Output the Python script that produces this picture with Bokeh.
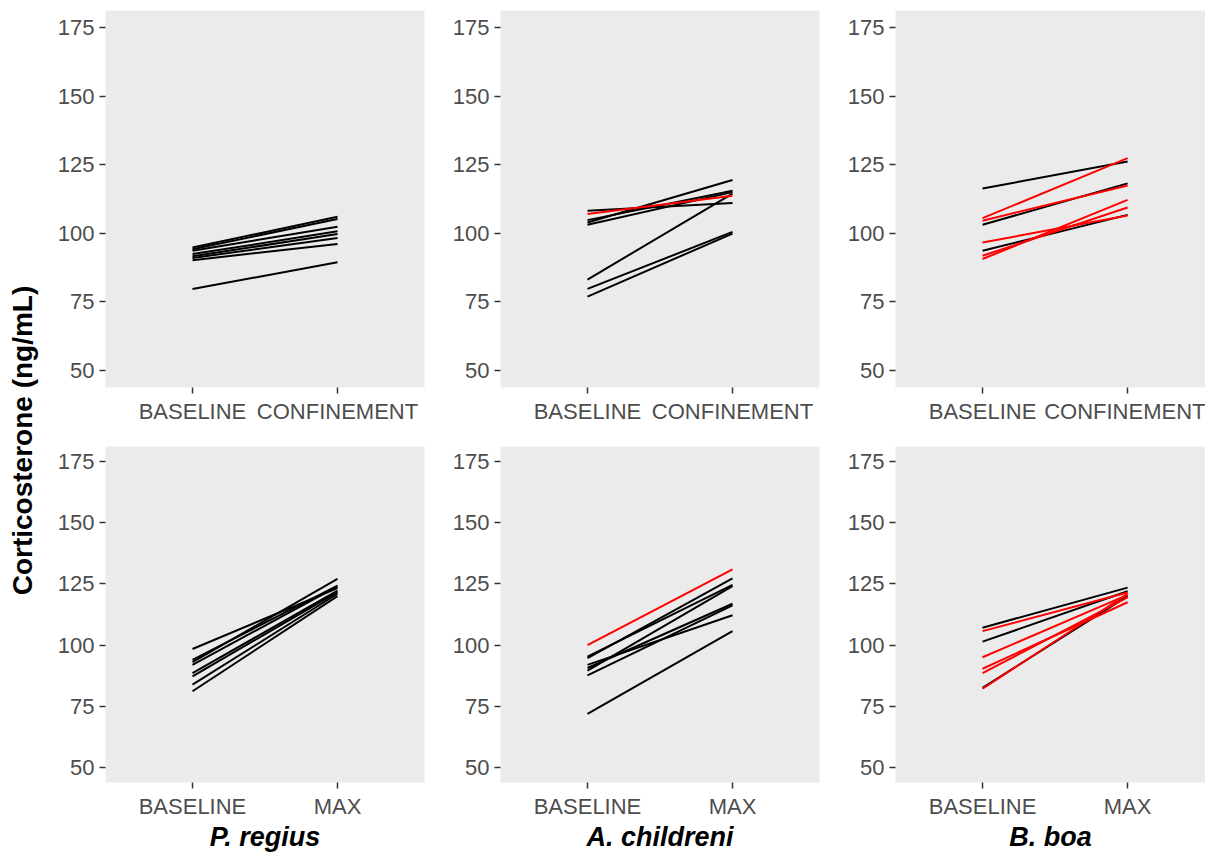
import math
from bokeh.plotting import figure
from bokeh.models import Range1d, FixedTicker, ColumnDataSource
from bokeh.layouts import row, column
from bokeh.embed import file_html
from bokeh.resources import INLINE
from bokeh.core.properties import value

# ---------------- data ----------------
species = ["P. regius", "A. childreni", "B. boa"]
top_conditions = ["BASELINE", "CONFINEMENT"]
bottom_conditions = ["BASELINE", "MAX"]
y_ticks = [50, 75, 100, 125, 150, 175]
y_title = "Corticosterone (ng/mL)"
group_colors = ["#000000", "#FF0000"]

# top row: BASELINE -> CONFINEMENT
preg_conf_baseline = [94.8, 94.2, 93.6, 92.4, 91.6, 91.0, 90.2, 79.7]
preg_conf_peak = [106.0, 105.2, 102.4, 100.7, 99.7, 98.3, 96.1, 89.4]
preg_conf_group = [0, 0, 0, 0, 0, 0, 0, 0]

achi_conf_baseline = [108.2, 107.0, 104.8, 103.9, 103.1, 83.1, 79.7, 76.9]
achi_conf_peak = [111.0, 113.7, 115.5, 119.4, 115.0, 114.5, 100.5, 99.9]
achi_conf_group = [0, 1, 0, 0, 0, 0, 0, 0]

bboa_conf_baseline = [116.3, 105.5, 104.6, 103.1, 96.6, 93.6, 91.8, 90.6]
bboa_conf_peak = [126.2, 127.4, 117.4, 118.2, 106.5, 106.7, 109.4, 112.2]
bboa_conf_group = [0, 1, 1, 0, 1, 0, 1, 1]

# bottom row: BASELINE -> MAX
preg_max_baseline = [98.4, 93.9, 93.0, 91.9, 88.5, 87.2, 83.8, 81.1]
preg_max_peak = [123.3, 124.3, 127.1, 124.0, 122.3, 121.7, 121.0, 120.0]
preg_max_group = [0, 0, 0, 0, 0, 0, 0, 0]

achi_max_baseline = [100.0, 95.3, 94.6, 91.9, 90.6, 89.5, 87.6, 71.8]
achi_max_peak = [131.0, 124.6, 127.3, 112.2, 116.9, 124.1, 116.2, 105.7]
achi_max_group = [1, 0, 0, 0, 0, 0, 0, 0]

bboa_max_baseline = [107.1, 105.7, 101.4, 95.0, 90.3, 88.5, 82.1, 82.5]
bboa_max_peak = [123.5, 121.5, 122.0, 120.5, 117.5, 119.5, 121.0, 120.0]
bboa_max_group = [0, 1, 0, 1, 1, 1, 1, 0]

top_panels = [
    (preg_conf_baseline, preg_conf_peak, preg_conf_group),
    (achi_conf_baseline, achi_conf_peak, achi_conf_group),
    (bboa_conf_baseline, bboa_conf_peak, bboa_conf_group),
]
bottom_panels = [
    (preg_max_baseline, preg_max_peak, preg_max_group),
    (achi_max_baseline, achi_max_peak, achi_max_group),
    (bboa_max_baseline, bboa_max_peak, bboa_max_group),
]

FONT = "Liberation Sans"
PANEL_BG = "#EBEBEB"


def make_panel(data, conditions, width, height, border_top, border_bottom,
               border_right, x_end, species_name=None):
    base, peak, group = data
    p = figure(width=width, height=height, output_backend="svg",
               toolbar_location=None, x_range=Range1d(0.4, x_end),
               y_range=Range1d(43.75, 181.25),
               min_border_left=50, min_border_right=border_right,
               min_border_top=border_top, min_border_bottom=border_bottom)
    p.background_fill_color = PANEL_BG
    p.border_fill_color = "white"
    p.outline_line_color = None
    p.xgrid.visible = False
    p.ygrid.visible = False

    # draw black group first, red on top
    for g in (0, 1):
        idx = [i for i, gg in enumerate(group) if gg == g]
        if not idx:
            continue
        src = ColumnDataSource(dict(
            x0=[1] * len(idx), x1=[2] * len(idx),
            y0=[base[i] for i in idx], y1=[peak[i] for i in idx]))
        p.segment(x0="x0", y0="y0", x1="x1", y1="y1", source=src,
                  line_color=group_colors[g], line_width=2)

    p.xaxis.ticker = FixedTicker(ticks=[1, 2])
    p.xaxis.major_label_overrides = {1: conditions[0], 2: conditions[1]}
    p.yaxis.ticker = FixedTicker(ticks=y_ticks)
    for ax in (p.xaxis[0], p.yaxis[0]):
        ax.axis_line_color = None
        ax.major_tick_line_color = "#333333"
        ax.major_tick_line_width = 1.5
        ax.major_tick_out = 6
        ax.major_tick_in = 0
        ax.minor_tick_line_color = None
        ax.major_label_text_font = FONT
        ax.major_label_text_font_size = "22px"
        ax.major_label_text_color = "#4D4D4D"
        ax.major_label_standoff = 5
    if species_name is not None:
        p.xaxis.axis_label = species_name
        p.xaxis.axis_label_text_font = FONT
        p.xaxis.axis_label_text_font_style = "bold italic"
        p.xaxis.axis_label_text_font_size = "27px"
        p.xaxis.axis_label_text_color = "black"
        p.xaxis.axis_label_standoff = 0
    return p


TOP_H = 446
BOT_H = 408
TOTAL_H = TOP_H + BOT_H
LABEL_W = 54

top_figs = []
bottom_figs = []
for k in range(3):
    last = (k == 2)
    w = 1205 - LABEL_W - 2 * 395 if last else 395
    br = 0 if last else 25
    xe = 2.537 if last else 2.6
    top_figs.append(make_panel(top_panels[k], top_conditions, w, TOP_H,
                               10, 59, br, xe))
    bottom_figs.append(make_panel(bottom_panels[k], bottom_conditions, w, BOT_H,
                                  0, 67, br, xe, species_name=species[k]))

# shared y title
lab = figure(width=LABEL_W, height=TOTAL_H, output_backend="svg",
             toolbar_location=None, x_range=Range1d(0, LABEL_W),
             y_range=Range1d(0, TOTAL_H), min_border=0)
lab.axis.visible = False
lab.grid.visible = False
lab.outline_line_color = None
lab.background_fill_color = "white"
lab.border_fill_color = "white"
lab.text(x=[22], y=[TOTAL_H - 440], text=[y_title], angle=math.pi / 2,
         text_align="center", text_baseline="middle",
         text_font=value(FONT), text_font_style="bold",
         text_font_size="28px", text_color="black")

layout = row(lab, column(row(*top_figs), row(*bottom_figs)))

open("out.html", "w").write(file_html(layout, INLINE))
